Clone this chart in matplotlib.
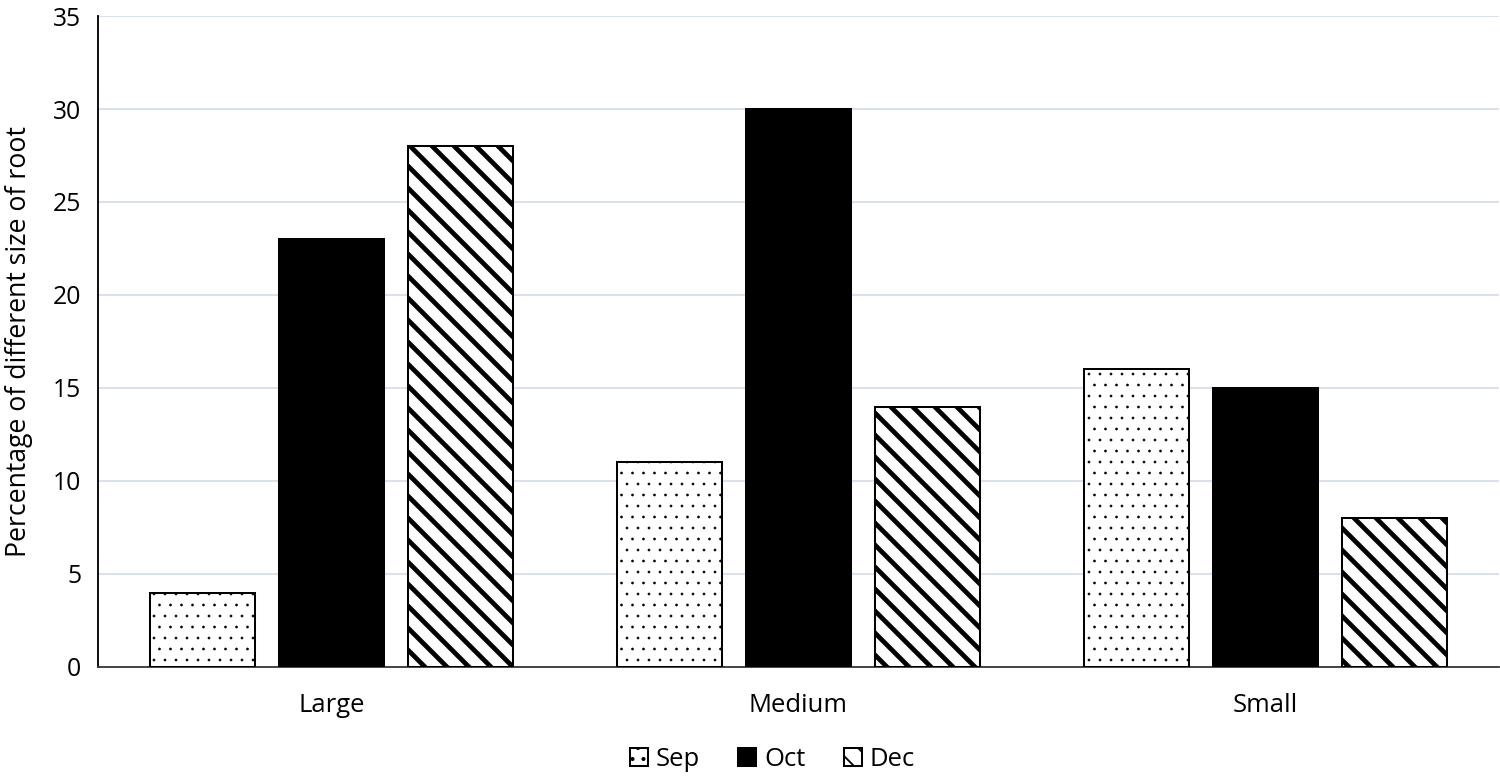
import matplotlib
matplotlib.use("Agg")
import matplotlib.pyplot as plt
import numpy as np

categories = ["Large", "Medium", "Small"]
series_names = ["Sep", "Oct", "Dec"]
sep_values = [4, 11, 16]
oct_values = [23, 30, 15]
dec_values = [28, 14, 8]
yticks = [0, 5, 10, 15, 20, 25, 30, 35]
ylabel = "Percentage of different size of root"

plt.rcParams['font.family'] = ['Open Sans', 'DejaVu Sans']

DPI = 132
fig = plt.figure(figsize=(1500 / DPI, 777 / DPI), dpi=DPI)
ax = fig.add_axes([0.0653, 0.1416, 0.9337, 0.8378])

x = np.arange(len(categories))
width = 0.225
offsets = [-0.276, 0.0, 0.277]
styles = [
    dict(facecolor="white", edgecolor="black", hatch="..", hlw=0.25),
    dict(facecolor="black", edgecolor="black", hatch=None, hlw=1.0),
    dict(facecolor="white", edgecolor="black", hatch="\\\\", hlw=2.6),
]
values = [sep_values, oct_values, dec_values]
handles = []
for name, vals, off, st in zip(series_names, values, offsets, styles):
    with plt.rc_context({'hatch.linewidth': st['hlw'], 'hatch.color': 'black'}):
        bars = ax.bar(x + off, vals, width, facecolor=st['facecolor'],
                      edgecolor=st['edgecolor'], hatch=st['hatch'],
                      linewidth=1.1, label=name, zorder=3)
        for b in bars:
            try:
                b.set_hatch_linewidth(st['hlw'])
            except Exception:
                pass
    handles.append(bars)

FS = 13.5
ax.set_xlim(-0.5, 2.5)
ax.set_ylim(0, 35)
ax.set_yticks(yticks)
ax.set_xticks(x)
ax.set_xticklabels(categories, fontsize=14)
ax.tick_params(axis='y', labelsize=FS, length=0, pad=9)
ax.tick_params(axis='x', length=0, pad=14)
ax.yaxis.grid(True, color="#d9e2ec", linewidth=1.1, zorder=0)
ax.set_axisbelow(True)
for s in ["top", "right"]:
    ax.spines[s].set_visible(False)
ax.spines["left"].set_color("black")
ax.spines["left"].set_linewidth(1.0)
ax.spines["bottom"].set_color("#3a3a3a")
ax.spines["bottom"].set_linewidth(1.0)
ax.set_ylabel(ylabel, fontsize=14.5, labelpad=11)

leg = fig.legend(handles=handles, labels=series_names, loc="center",
                 bbox_to_anchor=(0.515, 0.022), ncol=3, frameon=False,
                 fontsize=14, handlelength=0.7, handleheight=0.7,
                 handletextpad=0.3, columnspacing=1.5)

fig.savefig("out.png", dpi=DPI)
